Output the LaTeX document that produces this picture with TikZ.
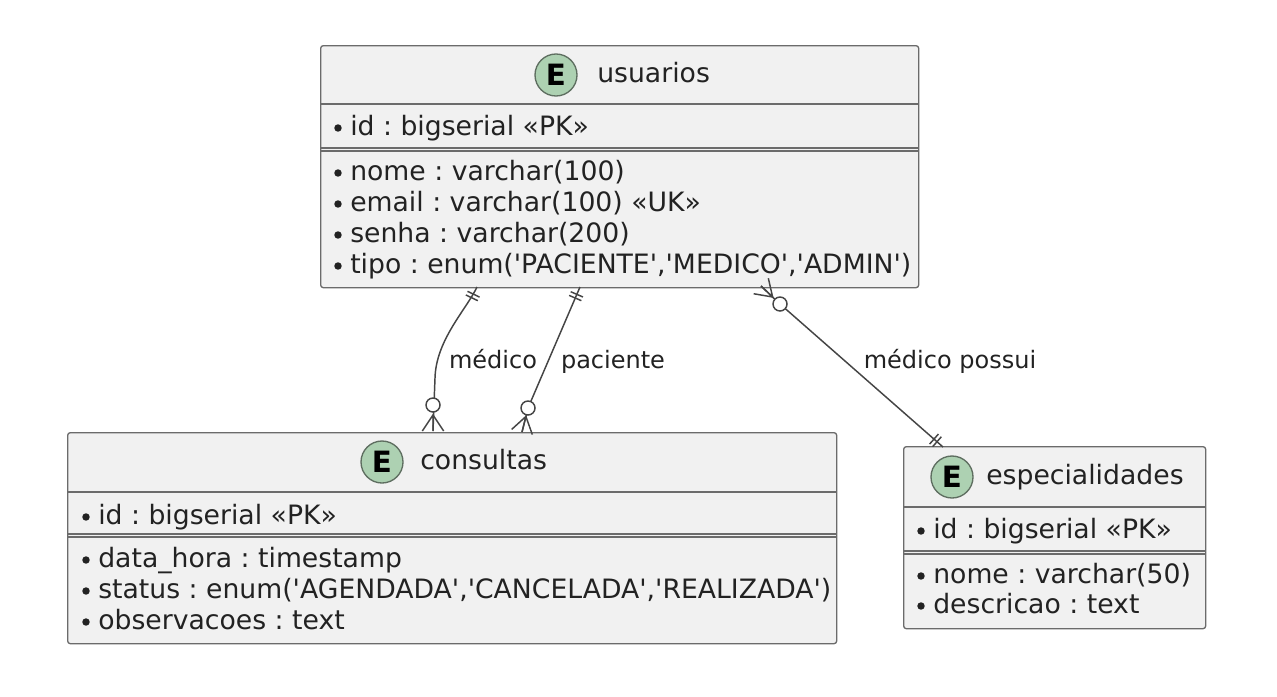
\documentclass[tikz,border=0pt]{standalone}
\usepackage{fontspec}
\setmainfont{DejaVu Sans}
\usetikzlibrary{calc}
\frenchspacing
\definecolor{boxfill}{HTML}{F1F1F1}
\definecolor{boxline}{HTML}{6B6B6B}
\definecolor{txt}{HTML}{222222}
\definecolor{conncol}{HTML}{454545}
\definecolor{spotfill}{HTML}{ADD1B2}
\definecolor{spotline}{HTML}{5E6E60}
\newcommand\sq{\textquotesingle}
\tikzset{
 ebox/.style={draw=boxline, fill=boxfill, line width=1pt, rounded corners=2pt, inner sep=0pt, anchor=north west},
 sepline/.style={draw=boxline, line width=1pt},
 rowtext/.style={anchor=base west, inner sep=0pt, text=txt, font=\frenchspacing\fontsize{20}{24}\selectfont},
 titletext/.style={anchor=base west, inner sep=0pt, text=txt, font=\fontsize{20}{24}\selectfont},
 lbl/.style={anchor=base, inner sep=0pt, text=txt, font=\fontsize{18}{22}\selectfont},
 spot/.style={circle, draw=spotline, fill=spotfill, line width=1pt, minimum size=31.5pt, inner sep=0pt, font=\bfseries\fontsize{22}{24}\selectfont, text=black},
 conn/.style={draw=conncol, line width=1.1pt},
 bul/.style={fill=txt},
}
\newcommand\onemark[2]{%
 \draw[conn] ($(#1)!6pt!(#2)!5pt!90:(#2)$) -- ($(#1)!6pt!(#2)!5pt!-90:(#2)$)
             ($(#1)!9pt!(#2)!5pt!90:(#2)$) -- ($(#1)!9pt!(#2)!5pt!-90:(#2)$);}
\newcommand\zmany[3]{%
 \draw[conn] (#1) -- ($(#1)!12pt!(#2)$) -- ($(#1)!8pt!90:(#2)$)
             ($(#1)!12pt!(#2)$) -- ($(#1)!8pt!-90:(#2)$);
 \draw[conn, fill=white] (#3) circle (5.25pt);}
\begin{document}
\begin{tikzpicture}[x=0.75pt,y=-0.75pt]
\fill[white] (0,0) rectangle (1277,696);
\useasboundingbox (0,0) rectangle (1277,696);

% ---------- usuarios ----------
\node[ebox, minimum width=448.5pt, minimum height=181.5pt] (usuarios) at (320,45) {};
\draw[sepline] (usuarios.west |- 0,104) -- (usuarios.east |- 0,104);
\draw[sepline] (usuarios.west |- 0,148) -- (usuarios.east |- 0,148);
\draw[sepline] (usuarios.west |- 0,151) -- (usuarios.east |- 0,151);
\node[spot] (uspot) at (556,75) {E};
\node[titletext] (utitle) at (597,82) {usuarios};
\foreach \yy/\nm/\tx in {135/u1/{id : bigserial «PK»},180/u2/{nome : varchar(100)},211/u3/{email : varchar(100) «UK»},242/u4/{senha : varchar(200)},273/u5/{tipo : enum(\sq PACIENTE\sq,\sq MEDICO\sq,\sq ADMIN\sq)}}{
  \fill[bul] (338,\yy-7) circle (2.8pt);
  \node[rowtext] (\nm) at (350,\yy) {\tx};
}

% ---------- consultas ----------
\node[ebox, minimum width=576.75pt, minimum height=158.25pt] (consultas) at (67,432) {};
\draw[sepline] (consultas.west |- 0,492) -- (consultas.east |- 0,492);
\draw[sepline] (consultas.west |- 0,534) -- (consultas.east |- 0,534);
\draw[sepline] (consultas.west |- 0,537) -- (consultas.east |- 0,537);
\node[spot] (cspot) at (382,462) {E};
\node[titletext] (ctitle) at (420,469) {consultas};
\foreach \yy/\nm/\tx in {524/c1/{id : bigserial «PK»},567/c2/{data\_hora : timestamp},598/c3/{status : enum(\sq AGENDADA\sq,\sq CANCELADA\sq,\sq REALIZADA\sq)},629/c4/{observacoes : text}}{
  \fill[bul] (86,\yy-7) circle (2.8pt);
  \node[rowtext] (\nm) at (98,\yy) {\tx};
}

% ---------- especialidades ----------
\node[ebox, minimum width=226.5pt, minimum height=136.5pt] (especialidades) at (903,446) {};
\draw[sepline] (especialidades.west |- 0,507) -- (especialidades.east |- 0,507);
\draw[sepline] (especialidades.west |- 0,551) -- (especialidades.east |- 0,551);
\draw[sepline] (especialidades.west |- 0,554) -- (especialidades.east |- 0,554);
\node[spot] (espot) at (952,477) {E};
\node[titletext] (etitle) at (986,484) {especialidades};
\foreach \yy/\nm/\tx in {538/e1/{id : bigserial «PK»},583/e2/{nome : varchar(50)},613/e3/{descricao : text}}{
  \fill[bul] (921,\yy-7) circle (2.8pt);
  \node[rowtext] (\nm) at (933,\yy) {\tx};
}

% ---------- relations ----------
% medico
\coordinate (mU) at (477,287);
\coordinate (mC) at (433,431);
\coordinate (mCirc) at (433,405);
\coordinate (mDir) at (433,380);
\draw[conn] (mU) .. controls (466,310) and (436,340) .. (435,378) -- (mC);
\onemark{mU}{466,310}
\zmany{mC}{mDir}{mCirc}
\node[lbl] (lmed) at (493,368) {médico};

% paciente
\coordinate (pU) at (580,287);
\coordinate (pC) at (522,432);
\coordinate (pCirc) at (528,408);
\draw[conn] (pU) -- (pCirc) -- (pC);
\onemark{pU}{pCirc}
\zmany{pC}{pCirc}{pCirc}
\node[lbl] (lpac) at (613,368) {paciente};

% medico possui
\coordinate (sU) at (761,286);
\coordinate (sCirc) at (780,304);
\coordinate (sE) at (943,447);
\draw[conn] (sU) -- (sCirc) -- (sE);
\zmany{sU}{sCirc}{sCirc}
\onemark{sE}{sCirc}
\node[lbl] (lpos) at (950,368) {médico possui};
\end{tikzpicture}
\end{document}
